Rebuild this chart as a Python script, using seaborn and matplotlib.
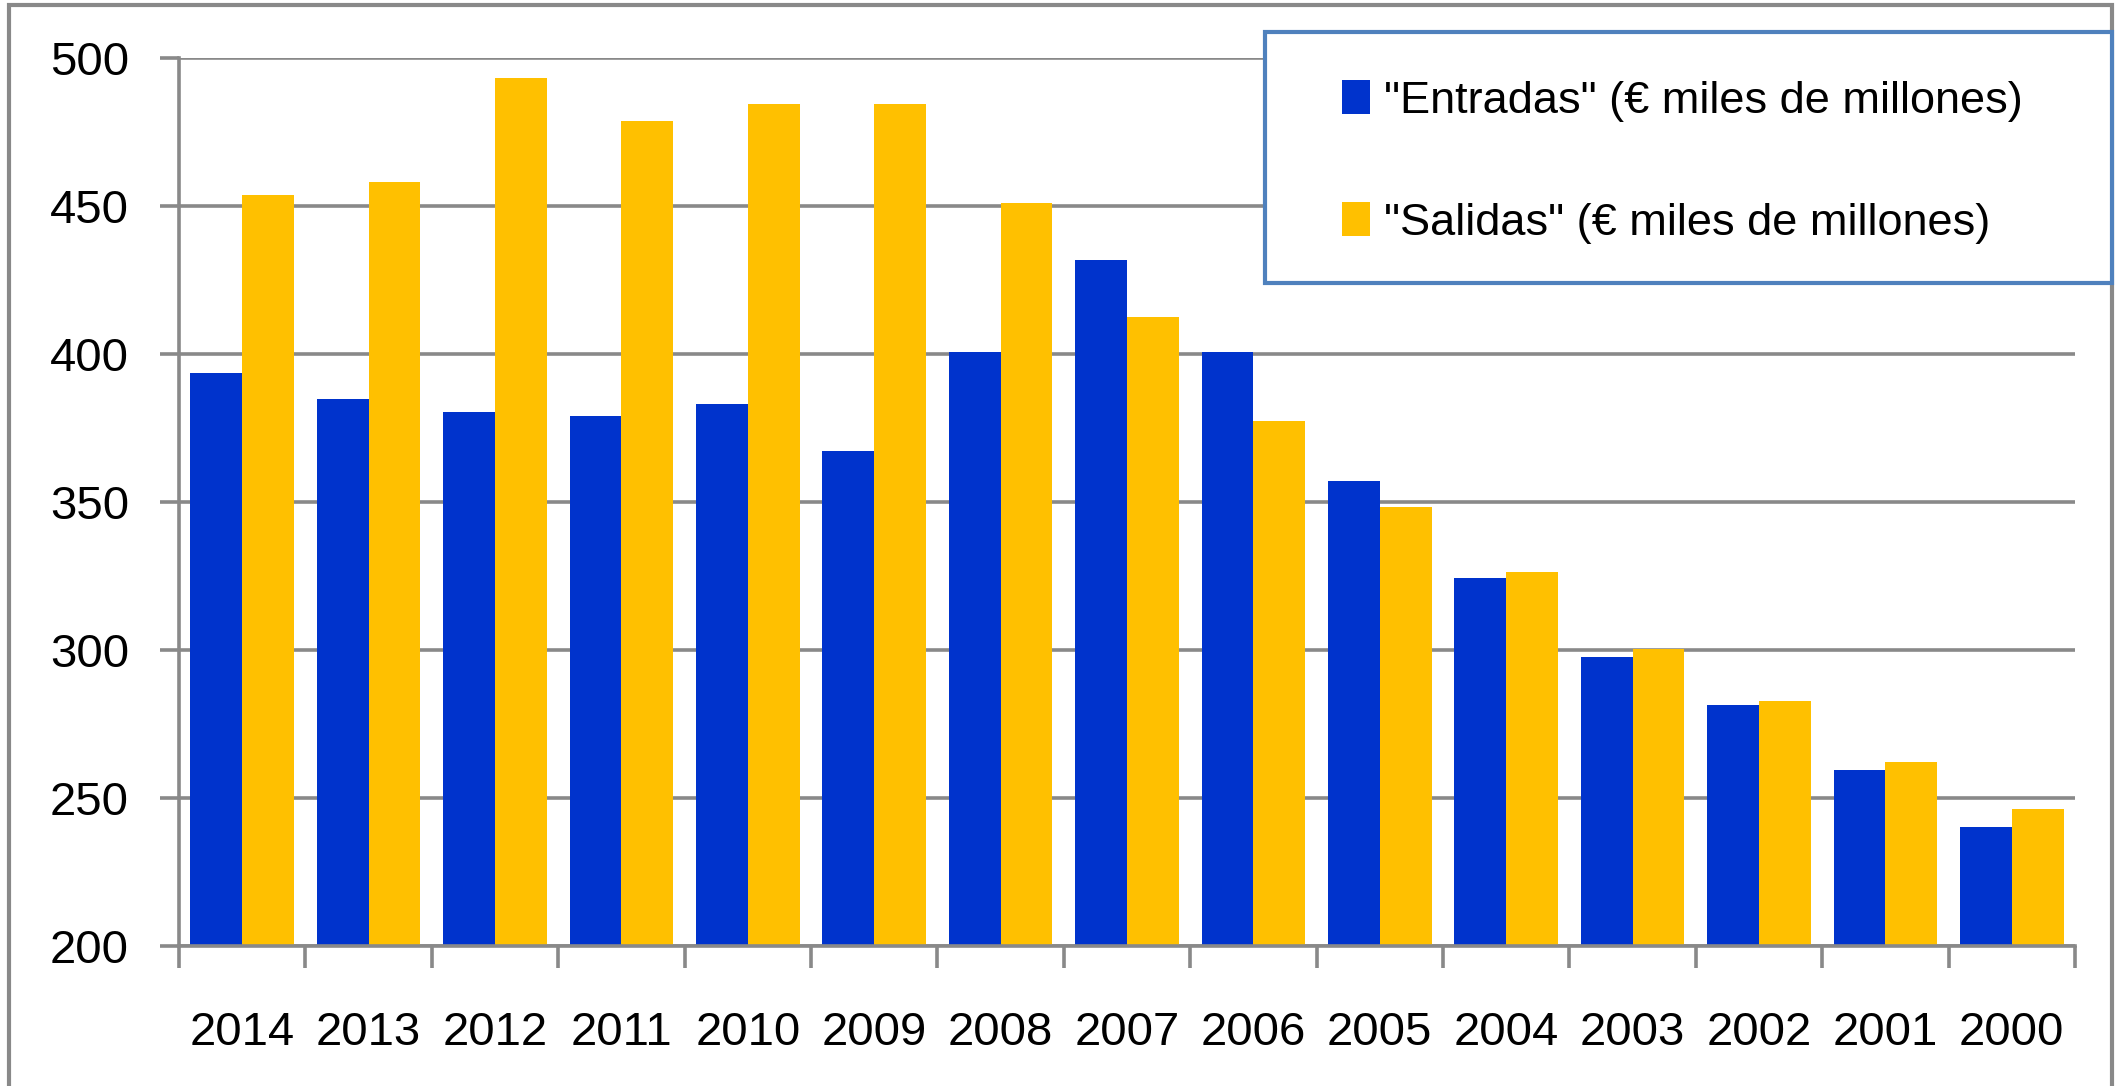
import numpy as np
import pandas as pd
import matplotlib
matplotlib.use("Agg")
import matplotlib.pyplot as plt
from matplotlib import font_manager
from matplotlib.patches import Patch, Rectangle
import seaborn as sns

# values (€ miles de millones)
years = ["2014", "2013", "2012", "2011", "2010", "2009", "2008", "2007",
         "2006", "2005", "2004", "2003", "2002", "2001", "2000"]
entradas = [393.7, 384.8, 380.4, 379.1, 383.1, 367.2, 400.8, 431.6,
            400.8, 357.0, 324.4, 297.5, 281.4, 259.5, 240.2]
salidas = [453.7, 458.0, 493.3, 478.7, 484.6, 484.6, 450.9, 412.6,
           377.4, 348.2, 326.2, 300.3, 282.8, 262.2, 246.3]
series_labels = ['"Entradas" (€ miles de millones)', '"Salidas" (€ miles de millones)']
colors = ["#0033CC", "#FFC000"]
y_ticks = [200, 250, 300, 350, 400, 450, 500]

grey = "#898989"

# narrow sans if present (original looks like Arial Narrow), else Arial metrics
names = {f.name for f in font_manager.fontManager.ttflist}
base_font = "Liberation Sans Narrow" if "Liberation Sans Narrow" in names else "Liberation Sans"
narrow = base_font.endswith("Narrow")
tick_fs = 42 if narrow else 34
leg_fs = 38 if narrow else 32.5

sns.set_theme(style="white")
plt.rcParams["font.family"] = [base_font, "DejaVu Sans"]
plt.rcParams["text.color"] = "black"

df = pd.DataFrame({
    "year": years * 2,
    "value": entradas + salidas,
    "serie": [series_labels[0]] * len(years) + [series_labels[1]] * len(years),
})

W, H = 2116, 1086
fig = plt.figure(figsize=(W / 100, H / 100), dpi=100)
ax = fig.add_axes([179 / W, 1 - 946 / H, (2075 - 179) / W, (946 - 58) / H])

sns.barplot(data=df, x="year", y="value", hue="serie", order=years,
            hue_order=series_labels, palette=colors, saturation=1,
            width=0.82, linewidth=0, legend=False, ax=ax)

ax.set_xlim(-0.5, len(years) - 0.5)
ax.set_ylim(200, 500)
ax.set_yticks(y_ticks)
ax.set_xlabel("")
ax.set_ylabel("")

ax.set_axisbelow(True)
ax.yaxis.grid(True, color=grey, linewidth=2.6)
ax.xaxis.grid(False)
for s in ["top", "right"]:
    ax.spines[s].set_visible(False)
for s in ["left", "bottom"]:
    ax.spines[s].set_color(grey)
    ax.spines[s].set_linewidth(2.6)

ax.tick_params(axis="y", which="major", length=14, width=2.6, color=grey,
               pad=22, labelsize=tick_fs, labelcolor="black", left=True)
ax.tick_params(axis="x", which="major", length=0, pad=47, labelsize=tick_fs,
               labelcolor="black", bottom=True)
ax.set_xticks(np.arange(-0.5, len(years), 1), minor=True)
ax.tick_params(axis="x", which="minor", length=16, width=2.6, color=grey, bottom=True)

# legend box drawn by hand so the padding can match
fig.patches.append(Rectangle((1265 / W, 1 - 283 / H), (2112 - 1265) / W, (283 - 32) / H,
                             transform=fig.transFigure, facecolor="white",
                             edgecolor="#4F81BD", linewidth=3, zorder=5))
handles = [Patch(facecolor=c, edgecolor="none") for c in colors]
leg = fig.legend(handles, series_labels, loc="upper left",
                 bbox_to_anchor=(1342 / W, 1 - 80 / H), frameon=False,
                 fontsize=leg_fs, handlelength=0.62, handleheight=0.78,
                 handletextpad=0.3, labelspacing=1.78, borderpad=0,
                 borderaxespad=0)
leg.set_zorder(6)
for t in leg.get_texts():
    t.set_color("black")

# outer chart border
fig.patches.append(Rectangle((9 / W, -0.02), (2112 - 9) / W, 1.02 - 5 / H,
                             transform=fig.transFigure, facecolor="none",
                             edgecolor=grey, linewidth=3, zorder=0))

fig.savefig("out.png", dpi=100)
